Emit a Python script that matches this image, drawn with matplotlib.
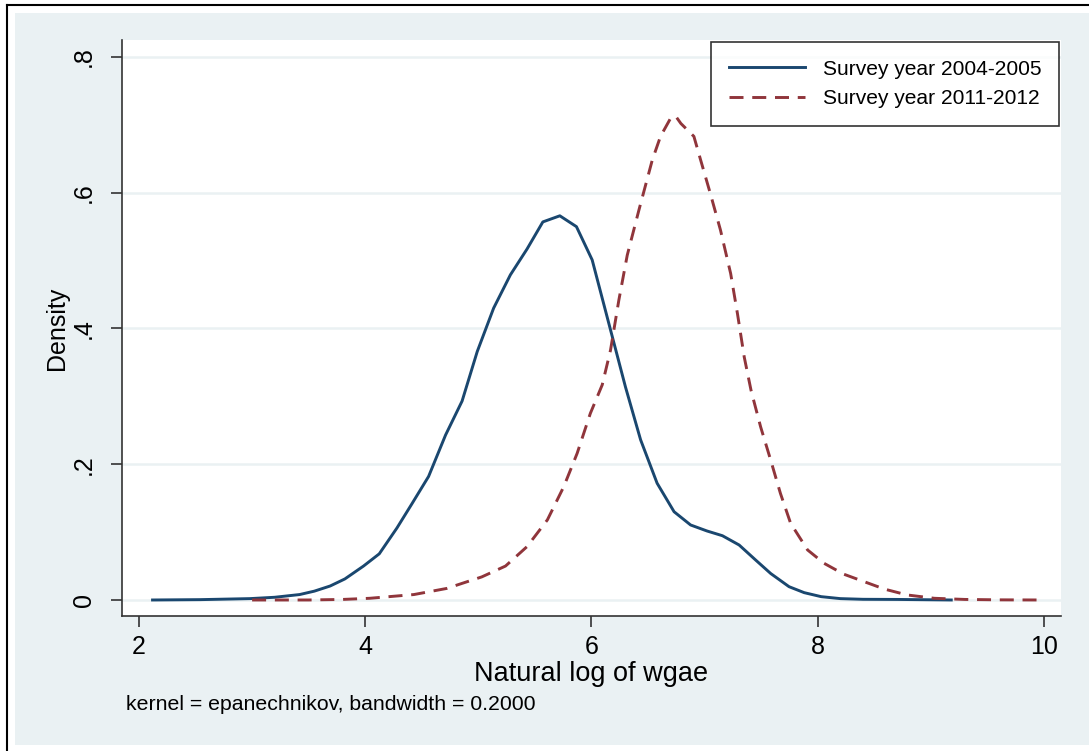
import numpy as np
import matplotlib
matplotlib.use("Agg")
import matplotlib.pyplot as plt
from matplotlib.lines import Line2D
from matplotlib.patches import Rectangle

plt.rcParams["font.family"] = ["Liberation Sans", "DejaVu Sans"]

# kernel density estimates
x_0405 = [2.12, 2.54, 2.98, 3.2, 3.42, 3.55, 3.69, 3.82, 3.985, 4.124, 4.28, 4.41, 4.56,
          4.71, 4.856, 4.99, 5.135, 5.283, 5.43, 5.57, 5.72, 5.867, 6.006, 6.168,
          6.30, 6.434, 6.58, 6.73, 6.876, 7.02, 7.157, 7.305, 7.45, 7.584, 7.746,
          7.88, 8.03, 8.20, 8.40, 8.70, 9.00, 9.18]
d_0405 = [0.0, 0.0005, 0.002, 0.004, 0.008, 0.013, 0.0206, 0.031, 0.050, 0.068, 0.106,
          0.141, 0.182, 0.243, 0.293, 0.366, 0.430, 0.479, 0.517, 0.557, 0.566,
          0.550, 0.501, 0.398, 0.314, 0.236, 0.172, 0.130, 0.1105, 0.1017, 0.0947,
          0.081, 0.059, 0.039, 0.0196, 0.0108, 0.0049, 0.002, 0.001, 0.0008,
          0.0003, 0.0]

x_1112 = [3.0, 3.5, 3.8, 4.04, 4.43, 4.72, 5.03, 5.24, 5.43, 5.61, 5.755, 5.873,
          5.99, 6.095, 6.168, 6.242, 6.316, 6.42, 6.537, 6.61, 6.70, 6.743, 6.79,
          6.905, 6.965, 7.05, 7.14, 7.23, 7.29, 7.35, 7.41, 7.495, 7.584, 7.67,
          7.76, 7.91, 8.056, 8.23, 8.41, 8.59, 8.79, 9.03, 9.3, 9.6, 9.96]
d_1112 = [0.0, 0.0, 0.0008, 0.0025, 0.008, 0.017, 0.034, 0.050, 0.0786, 0.118,
          0.167, 0.216, 0.275, 0.317, 0.368, 0.442, 0.508, 0.575, 0.648, 0.683,
          0.710, 0.713, 0.702, 0.683, 0.648, 0.599, 0.545, 0.481, 0.422, 0.358,
          0.309, 0.255, 0.206, 0.157, 0.113, 0.0737, 0.054, 0.038, 0.027, 0.016,
          0.0074, 0.0025, 0.0008, 0.0002, 0.0]

labels = ["Survey year 2004-2005", "Survey year 2011-2012"]
xticks = [2, 4, 6, 8, 10]
yticks = [0, 0.2, 0.4, 0.6, 0.8]
ytick_labels = ["0", ".2", ".4", ".6", ".8"]

navy = "#1A476F"
maroon = "#90353B"
bg = "#EAF1F3"

fig = plt.figure(figsize=(10.89, 7.51), dpi=100, facecolor="white")

# light blue graph region and black frame lines
fig.patches.append(Rectangle((15 / 1089, 6 / 751), 1 - 15 / 1089, (745 - 14) / 751 + 0.001,
                             transform=fig.transFigure, facecolor=bg, edgecolor="none",
                             zorder=-5))
fig.add_artist(Line2D([7 / 1089, 7 / 1089], [0, 1 - 5 / 751], transform=fig.transFigure,
                      color="black", lw=1.5, zorder=-4))
fig.add_artist(Line2D([7 / 1089, 1], [1 - 5 / 751, 1 - 5 / 751], transform=fig.transFigure,
                      color="black", lw=1.5, zorder=-4))

ax = fig.add_axes([122 / 1089, 135 / 751, (1061 - 122) / 1089, (616 - 40) / 751])
ax.set_zorder(1)
ax.set_facecolor("white")

for y in yticks:
    ax.axhline(y, color=bg, lw=1.8, zorder=0)

ax.plot(x_0405, d_0405, color=navy, lw=2.1, label=labels[0])
ax.plot(x_1112, d_1112, color=maroon, lw=2.1, dashes=(4.8, 3.0), label=labels[1])

ax.set_xlim(1.85, 10.15)
ax.set_ylim(-0.0236, 0.825)
ax.set_xticks(xticks)
ax.set_xticklabels([str(t) for t in xticks])
ax.set_yticks(yticks)
ax.set_yticklabels(ytick_labels, rotation=90, va="center")
ax.tick_params(axis="both", labelsize=18, length=8, width=1.2, color="#333333")
ax.tick_params(axis="x", pad=6)
ax.tick_params(axis="y", pad=11)

for s in ["top", "right"]:
    ax.spines[s].set_visible(False)
for s in ["left", "bottom"]:
    ax.spines[s].set_color("#333333")
    ax.spines[s].set_linewidth(1.2)

ax.set_xlabel("Natural log of wgae", fontsize=19.5, labelpad=1)
ax.set_ylabel("Density", fontsize=18, labelpad=2)

leg = ax.legend(loc="upper right", bbox_to_anchor=(1059 / 1089, 1 - 42 / 751),
                bbox_transform=fig.transFigure, fontsize=15.1, frameon=True,
                fancybox=False, handlelength=3.6, handletextpad=0.85,
                labelspacing=0.5, borderpad=0.85, borderaxespad=0)
leg.get_frame().set_edgecolor("black")
leg.get_frame().set_linewidth(1.2)

fig.text(126 / 1089, 1 - 704 / 751, "kernel = epanechnikov, bandwidth = 0.2000",
         fontsize=15.3, va="center", ha="left")

fig.savefig("out.png", dpi=100, facecolor="white")
